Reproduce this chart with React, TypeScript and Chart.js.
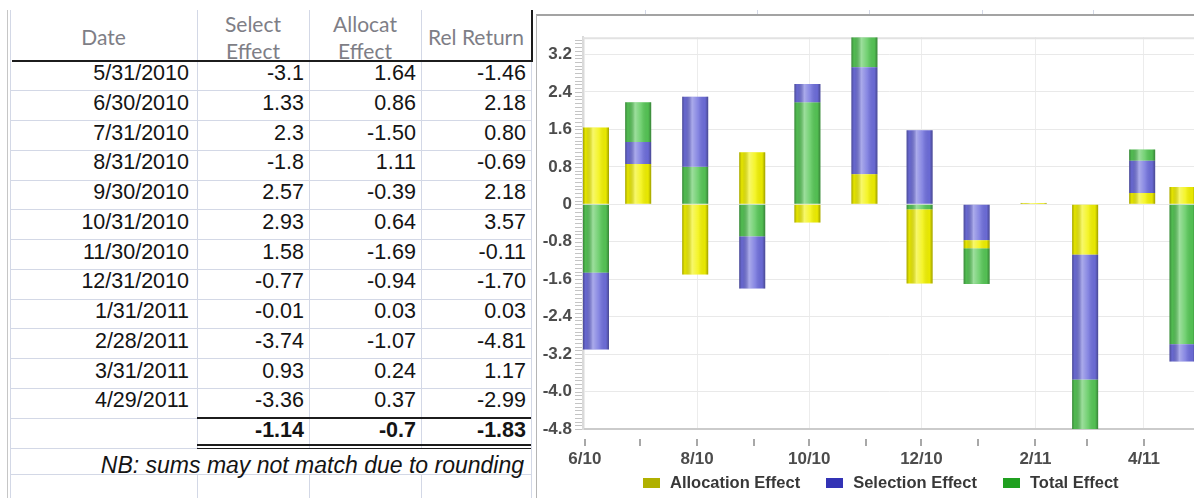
import React, { useEffect, useRef } from 'react';
import { Chart, registerables } from 'chart.js';

Chart.register(...registerables);

// ---------------- data ----------------
const dates = ['5/31/2010', '6/30/2010', '7/31/2010', '8/31/2010', '9/30/2010', '10/31/2010', '11/30/2010', '12/31/2010', '1/31/2011', '2/28/2011', '3/31/2011', '4/29/2011'];
const selectEffect = [-3.1, 1.33, 2.3, -1.8, 2.57, 2.93, 1.58, -0.77, -0.01, -3.74, 0.93, -3.36];
const allocEffect = [1.64, 0.86, -1.5, 1.11, -0.39, 0.64, -1.69, -0.94, 0.03, -1.07, 0.24, 0.37];
const relReturn = [-1.46, 2.18, 0.8, -0.69, 2.18, 3.57, -0.11, -1.7, 0.03, -4.81, 1.17, -2.99];
const totals = [-1.14, -0.7, -1.83];
const headers = ['Date', 'Select\nEffect', 'Allocat\nEffect', 'Rel Return'];
const note = 'NB: sums may not match due to rounding';
const seriesNames = ['Allocation Effect', 'Selection Effect', 'Total Effect'];
const yTickValues = [-4.8, -4.0, -3.2, -2.4, -1.6, -0.8, 0, 0.8, 1.6, 2.4, 3.2];
const yTickLabels = ['-4.8', '-4.0', '-3.2', '-2.4', '-1.6', '-0.8', '0', '0.8', '1.6', '2.4', '3.2'];
const xTickDates = ['6/1/2010', '7/1/2010', '8/1/2010', '9/1/2010', '10/1/2010', '11/1/2010', '12/1/2010', '1/1/2011', '2/1/2011', '3/1/2011', '4/1/2011'];
const xTickLabels = ['6/10', '7/10', '8/10', '9/10', '10/10', '11/10', '12/10', '1/11', '2/11', '3/11', '4/11'];
const yAxisMin = -4.8;

// ---------------- styles ----------------
const FONT = "'Liberation Sans', Arial, Helvetica, sans-serif";
const HEAD_FONT = "Lato, 'Open Sans', sans-serif";
const BAR_COLORS = ['#f2f200', '#6e6edc', '#56c756'];
const LEGEND_COLORS = ['#b0b000', '#3333b5', '#20a020'];
const SHADE_STOPS: [number, string][] = [
  [0, 'rgba(0,0,0,0.32)'],
  [0.1, 'rgba(0,0,0,0.05)'],
  [0.38, 'rgba(255,255,255,0.42)'],
  [0.62, 'rgba(255,255,255,0.16)'],
  [0.88, 'rgba(0,0,0,0.04)'],
  [1, 'rgba(0,0,0,0.34)'],
];
const AXIS_TEXT = '#4c4c4c';

const COLS = [10, 197, 309, 421, 531];
const PADS = [8, 5, 5, 5];
const ROW_TOP = 61;
const ROW_H = 29.75;
const GRID = '#d3d8e6';

const CANVAS_W = 680;
const CANVAS_H = 470;

function toDay(s: string): number {
  const [m, d, y] = s.split('/').map(Number);
  return Math.round(Date.UTC(y, m - 1, d) / 86400000);
}

// visible part of series k at index i when overlapping bars share a baseline
function visibleSegment(series: number[][], k: number, i: number): [number, number] {
  const v = series[k][i];
  let start = 0;
  series.forEach((s, j) => {
    if (j === k) return;
    const o = s[i];
    if (o * v <= 0) return;
    const smaller = Math.abs(o) < Math.abs(v) || (Math.abs(o) === Math.abs(v) && j < k);
    if (smaller && Math.abs(o) > Math.abs(start)) start = o;
  });
  return [start, v];
}

const clampPlugin = {
  id: 'clampBars',
  afterDatasetsUpdate(chart: any) {
    const a = chart.chartArea;
    chart.data.datasets.forEach((_: any, k: number) => {
      chart.getDatasetMeta(k).data.forEach((el: any) => {
        const half = el.width / 2;
        if (el.x - half < a.left) el.x = a.left + half;
        if (el.x + half > a.right) el.x = a.right - half;
      });
    });
  },
};

const shadePlugin = {
  id: 'shadeBars',
  afterDatasetsDraw(chart: any) {
    const { ctx, chartArea: a } = chart;
    ctx.save();
    ctx.beginPath();
    ctx.rect(a.left, a.top, a.right - a.left, a.bottom - a.top);
    ctx.clip();
    chart.data.datasets.forEach((_: any, k: number) => {
      chart.getDatasetMeta(k).data.forEach((el: any) => {
        const { x, y, base, width } = el;
        const top = Math.min(y, base);
        const h = Math.abs(base - y);
        if (h < 0.5) return;
        const l = x - width / 2;
        const g = ctx.createLinearGradient(l, 0, l + width, 0);
        SHADE_STOPS.forEach(([o, c]) => g.addColorStop(o, c));
        ctx.fillStyle = g;
        ctx.fillRect(l, top, width, h);
      });
    });
    ctx.restore();
  },
};

const axisDecorPlugin = {
  id: 'axisDecor',
  beforeDatasetsDraw(chart: any) {
    const { ctx, chartArea: a } = chart;
    ctx.save();
    ctx.strokeStyle = '#e2e2e2';
    ctx.lineWidth = 2;
    ctx.beginPath();
    ctx.moveTo(a.left, a.top + 1);
    ctx.lineTo(a.right, a.top + 1);
    ctx.stroke();
    ctx.restore();
  },
  afterDraw(chart: any) {
    const { ctx, chartArea: a, scales } = chart;
    const ys = scales.y;
    const xs = scales.x;
    ctx.save();
    const step = (yTickValues[1] - yTickValues[0]) / 10;
    const n = Math.floor((ys.max - ys.min) / step + 1e-6);
    ctx.strokeStyle = '#c4c4c4';
    ctx.lineWidth = 1;
    ctx.beginPath();
    for (let i = 0; i <= n; i++) {
      const p = Math.round(ys.getPixelForValue(ys.min + i * step)) + 0.5;
      ctx.moveTo(a.left - 8, p);
      ctx.lineTo(a.left - 1, p);
    }
    ctx.stroke();
    ctx.strokeStyle = '#8c8c8c';
    ctx.lineWidth = 1.5;
    ctx.beginPath();
    xs.ticks.forEach((t: any) => {
      const px = Math.round(xs.getPixelForValue(t.value));
      ctx.moveTo(px, a.bottom + 10);
      ctx.lineTo(px, a.bottom + 17);
    });
    ctx.stroke();
    ctx.restore();
  },
};

function AttributionChart() {
  const canvasRef = useRef<HTMLCanvasElement | null>(null);
  useEffect(() => {
    const canvas = canvasRef.current;
    if (!canvas) return;
    const day0 = toDay(dates[0]);
    const xs = dates.map((d) => toDay(d) - day0);
    const xTicks = xTickDates.map((d) => toDay(d) - day0);
    const series = [allocEffect, selectEffect, relReturn];
    const yMax = Math.max(...series.flat());
    const datasets = series.map((vals, k) => ({
      label: seriesNames[k],
      data: vals.map((_, i) => ({ x: xs[i], y: visibleSegment(series, k, i) })),
      backgroundColor: BAR_COLORS[k],
      borderWidth: 0,
      maxBarThickness: 26,
      grouped: false,
      clip: 0,
    }));
    const tickFont = { family: FONT, size: 17, weight: 'bold' as const };
    const chart = new Chart(canvas, {
      type: 'bar',
      data: { datasets } as any,
      options: {
        responsive: false,
        animation: false,
        devicePixelRatio: 1,
        layout: { padding: { left: 0, right: 21.5, top: 16, bottom: 0 } },
        plugins: {
          tooltip: { enabled: false },
          legend: { display: false },
        },
        scales: {
          x: {
            type: 'linear',
            min: 0,
            max: xs[xs.length - 1],
            offset: false,
            afterBuildTicks: (s: any) => {
              s.ticks = xTicks.map((v) => ({ value: v }));
            },
            afterFit: (s: any) => {
              s.height = CANVAS_H - 16 - 397;
            },
            grid: {
              offset: false,
              drawTicks: false,
              color: (c: any) => (c.index % 2 === 0 ? '#ececec' : 'rgba(0,0,0,0)'),
            },
            border: { color: '#cbcbcb', width: 2 },
            ticks: {
              autoSkip: false,
              maxRotation: 0,
              minRotation: 0,
              padding: 20,
              color: AXIS_TEXT,
              font: tickFont,
              callback: (_v: any, i: number) => (i % 2 === 0 ? xTickLabels[i] : ''),
            },
          },
          y: {
            type: 'linear',
            min: yAxisMin,
            max: yMax,
            afterBuildTicks: (s: any) => {
              s.ticks = yTickValues.map((v) => ({ value: v }));
            },
            afterFit: (s: any) => {
              s.width = 46;
            },
            grid: { drawTicks: false, color: '#e9e9e9' },
            border: { color: '#dadada', width: 2 },
            ticks: {
              autoSkip: false,
              padding: 11,
              color: AXIS_TEXT,
              font: tickFont,
              callback: (_v: any, i: number) => yTickLabels[i],
            },
          },
        },
      } as any,
      plugins: [clampPlugin, shadePlugin, axisDecorPlugin],
    });
    return () => chart.destroy();
  }, []);
  return (
    <canvas
      ref={canvasRef}
      width={CANVAS_W}
      height={CANVAS_H}
      style={{ position: 'absolute', left: 537, top: 16, width: CANVAS_W, height: CANVAS_H }}
    />
  );
}

function Legend() {
  return (
    <div
      style={{
        position: 'absolute',
        left: 643,
        top: 470,
        height: 24,
        display: 'flex',
        alignItems: 'center',
        whiteSpace: 'nowrap',
        font: `bold 16.5px ${FONT}`,
        color: '#383838',
      }}
    >
      {seriesNames.map((name, i) => (
        <div key={name} style={{ display: 'flex', alignItems: 'center', marginRight: 26 }}>
          <div style={{ width: 17, height: 10, background: LEGEND_COLORS[i], marginRight: 10, marginTop: 1 }} />
          <span>{name}</span>
        </div>
      ))}
    </div>
  );
}

function SheetTable() {
  const nRows = dates.length;
  const totalTop = ROW_TOP + nRows * ROW_H;
  const totalBottom = totalTop + 30;
  const noteBottom = totalBottom + 25.5;
  const items: React.ReactNode[] = [];
  const line = (key: string, left: number, top: number, width: number, height: number, color: string) =>
    items.push(<div key={key} style={{ position: 'absolute', left, top, width, height, background: color }} />);

  for (let i = 1; i <= nRows; i++) line('h' + i, 10, ROW_TOP + i * ROW_H - 0.5, COLS[4] - 10, 1, GRID);
  line('ht', 10, totalBottom, COLS[4] - 10, 1, GRID);
  line('hn', 10, noteBottom, COLS[4] - 10, 1, GRID);
  line('v0a', 7, 10, 1, 488, '#c6c6c6');
  line('v0', 10, 10, 1, 488, GRID);
  [1, 2, 3].forEach((c) => {
    line('va' + c, COLS[c], 10, 1, totalBottom - 10, GRID);
    line('vb' + c, COLS[c], noteBottom, 1, 498 - noteBottom, GRID);
  });
  line('v4', COLS[4], 62, 1, 436, GRID);
  line('hb', 12, 60, COLS[4] + 2 - 12, 2, '#1c1c1c');
  line('rb', COLS[4], 10, 2, 52, '#1c1c1c');
  line('tt', COLS[1], totalTop - 1, COLS[4] - COLS[1], 2, '#1c1c1c');
  line('td1', COLS[1], totalBottom - 4, COLS[4] - COLS[1], 1.5, '#1c1c1c');
  line('td2', COLS[1], totalBottom - 0.5, COLS[4] - COLS[1], 1.5, '#1c1c1c');

  headers.forEach((h, c) => {
    items.push(
      <div
        key={'hd' + c}
        style={{
          position: 'absolute',
          left: COLS[c],
          top: 12,
          width: COLS[c + 1] - COLS[c],
          height: 51,
          display: 'flex',
          flexDirection: 'column',
          justifyContent: 'center',
          alignItems: 'center',
          whiteSpace: 'pre',
          textAlign: 'center',
          font: `21px ${HEAD_FONT}`,
          lineHeight: '26.5px',
          color: '#7e7e86',
        }}
      >
        {h}
      </div>
    );
  });

  const cell = (key: string, c: number, top: number, text: string, bold = false) =>
    items.push(
      <div
        key={key}
        style={{
          position: 'absolute',
          left: COLS[c],
          top,
          width: COLS[c + 1] - COLS[c] - PADS[c],
          height: ROW_H,
          lineHeight: ROW_H + 'px',
          textAlign: 'right',
          whiteSpace: 'nowrap',
          font: `${bold ? 'bold ' : ''}21.5px ${FONT}`,
          color: '#141414',
        }}
      >
        {text}
      </div>
    );

  dates.forEach((d, i) => {
    const top = ROW_TOP + i * ROW_H;
    cell('d' + i, 0, top, d);
    cell('s' + i, 1, top, String(selectEffect[i]));
    cell('a' + i, 2, top, allocEffect[i].toFixed(2));
    cell('r' + i, 3, top, relReturn[i].toFixed(2));
  });
  totals.forEach((t, j) => cell('t' + j, j + 1, totalTop, String(t), true));

  items.push(
    <div
      key="note"
      style={{
        position: 'absolute',
        left: 10,
        top: totalBottom + 4,
        width: COLS[4] - 10 - 7,
        lineHeight: '24px',
        textAlign: 'right',
        whiteSpace: 'nowrap',
        font: `italic 23px ${FONT}`,
        color: '#141414',
      }}
    >
      {note}
    </div>
  );
  return <>{items}</>;
}

export default function App() {
  const stubs = [645, 757, 869, 982, 1093];
  return (
    <div
      style={{
        position: 'fixed',
        left: 0,
        top: 0,
        width: 1194,
        height: 498,
        overflow: 'hidden',
        background: '#ffffff',
      }}
    >
      <SheetTable />
      {stubs.map((x) => (
        <div key={'st' + x} style={{ position: 'absolute', left: x, top: 10, width: 1, height: 5, background: GRID }} />
      ))}
      <div
        style={{
          position: 'absolute',
          left: 536,
          top: 14,
          width: 720,
          height: 520,
          borderTop: '2px solid #a3a3a3',
          borderLeft: '1px solid #b5b5b5',
          boxSizing: 'border-box',
        }}
      />
      <AttributionChart />
      <Legend />
    </div>
  );
}
